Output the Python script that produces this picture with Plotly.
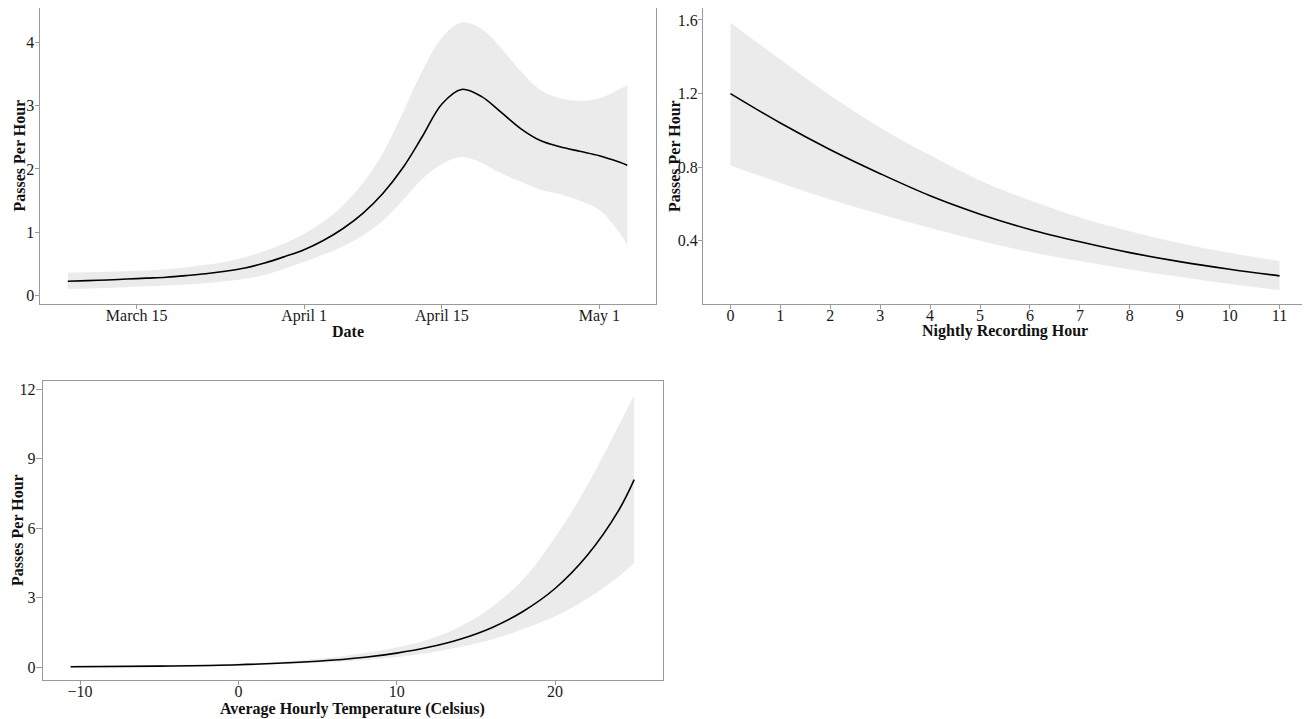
import plotly.graph_objects as go

# ---- Panel 1: passes per hour by date
dates = ["2019-03-08", "2019-03-10", "2019-03-12", "2019-03-14", "2019-03-16", "2019-03-18",
         "2019-03-20", "2019-03-22", "2019-03-24", "2019-03-26", "2019-03-28", "2019-03-30",
         "2019-04-01", "2019-04-03", "2019-04-05", "2019-04-07", "2019-04-09", "2019-04-11",
         "2019-04-13", "2019-04-15", "2019-04-17", "2019-04-19", "2019-04-21", "2019-04-23",
         "2019-04-25", "2019-04-27", "2019-04-29", "2019-05-01", "2019-05-03", "2019-05-03 20:00"]
date_fit = [0.22, 0.23, 0.24, 0.255, 0.27, 0.285, 0.31, 0.34, 0.38, 0.43, 0.51, 0.61,
            0.72, 0.87, 1.06, 1.30, 1.61, 2.01, 2.51, 3.03, 3.26, 3.15, 2.90, 2.64,
            2.45, 2.35, 2.28, 2.21, 2.11, 2.06]
date_upper = [0.36, 0.365, 0.37, 0.38, 0.39, 0.41, 0.44, 0.48, 0.53, 0.60, 0.70, 0.82,
              0.97, 1.17, 1.43, 1.78, 2.25, 2.88, 3.55, 4.08, 4.32, 4.22, 3.92, 3.55,
              3.25, 3.12, 3.08, 3.12, 3.26, 3.33]
date_lower = [0.095, 0.105, 0.115, 0.125, 0.14, 0.155, 0.17, 0.19, 0.22, 0.26, 0.32, 0.42,
              0.53, 0.645, 0.78, 0.95, 1.18, 1.50, 1.84, 2.08, 2.19, 2.10, 1.93, 1.80,
              1.67, 1.60, 1.50, 1.35, 1.00, 0.79]
date_tickvals = ["2019-03-15", "2019-04-01", "2019-04-15", "2019-05-01"]
date_ticktext = ["March 15", "April 1", "April 15", "May 1"]

# ---- Panel 2: passes per hour by nightly recording hour
hours = [0, 1, 2, 3, 4, 5, 6, 7, 8, 9, 10, 11]
hour_fit = [1.20, 1.04, 0.895, 0.765, 0.645, 0.545, 0.462, 0.395, 0.336, 0.287, 0.246, 0.21]
hour_upper = [1.585, 1.385, 1.19, 1.015, 0.865, 0.728, 0.62, 0.527, 0.452, 0.387, 0.335, 0.29]
hour_lower = [0.81, 0.715, 0.625, 0.545, 0.47, 0.40, 0.34, 0.29, 0.245, 0.205, 0.165, 0.133]

# ---- Panel 3: passes per hour by temperature
temps = [-10.6, -5, 0, 5, 8, 10, 12, 14, 16, 18, 20, 22, 24, 25]
temp_fit = [0.02, 0.05, 0.11, 0.26, 0.43, 0.61, 0.86, 1.21, 1.71, 2.42, 3.40, 4.80, 6.75, 8.10]
temp_upper = [0.06, 0.09, 0.16, 0.36, 0.62, 0.85, 1.20, 1.75, 2.60, 3.80, 5.60, 7.80, 10.40, 11.75]
temp_lower = [0.0, 0.02, 0.07, 0.19, 0.31, 0.44, 0.62, 0.87, 1.20, 1.65, 2.20, 2.95, 3.90, 4.50]

W, H = 1310, 719
OFF = 8  # page body margin around the plot div
FONT = "Liberation Serif, Times New Roman, serif"
BORDER = "#9a9a9a"
RIBBON = "#ebebeb"


def px_x(p):
    return (p - OFF) / W


def px_y(p):
    return 1 - (p - OFF) / H


fig = go.Figure()


def add_panel(fig, x, fit, lo, hi, xa, ya):
    fig.add_trace(go.Scatter(x=x, y=lo, mode="lines", line=dict(width=0, shape="spline"),
                             xaxis=xa, yaxis=ya, showlegend=False, hoverinfo="skip"))
    fig.add_trace(go.Scatter(x=x, y=hi, mode="lines", line=dict(width=0, shape="spline"),
                             fill="tonexty", fillcolor=RIBBON,
                             xaxis=xa, yaxis=ya, showlegend=False, hoverinfo="skip"))
    fig.add_trace(go.Scatter(x=x, y=fit, mode="lines", line=dict(color="black", width=1.6, shape="spline"),
                             xaxis=xa, yaxis=ya, showlegend=False))


add_panel(fig, dates, date_fit, date_lower, date_upper, "x", "y")
add_panel(fig, hours, hour_fit, hour_lower, hour_upper, "x2", "y2")
add_panel(fig, temps, temp_fit, temp_lower, temp_upper, "x3", "y3")

base = dict(showline=True, mirror=True, linecolor=BORDER, linewidth=1,
            showgrid=False, zeroline=False, ticks="outside", ticklen=4,
            tickcolor=BORDER, tickwidth=1,
            tickfont=dict(family=FONT, size=16, color="#1a1a1a"))
xstyle = dict(base, ticklabelstandoff=-7)
ystyle = dict(base, ticklabelstandoff=-3)

top_y = [px_y(304), px_y(8)]
fig.update_layout(
    xaxis=dict(domain=[px_x(39.5), px_x(656)], anchor="y",
               range=["2019-03-05 03:00", "2019-05-06 18:00"],
               tickmode="array", tickvals=date_tickvals, ticktext=date_ticktext, **xstyle),
    yaxis=dict(domain=top_y, anchor="x", range=[-0.14, 4.55],
               tickmode="array", tickvals=[0, 1, 2, 3, 4], **ystyle),
    xaxis2=dict(domain=[px_x(703), px_x(1307)], anchor="y2", range=[-0.55, 11.55],
                tickmode="array", tickvals=hours, **xstyle),
    yaxis2=dict(domain=top_y, anchor="x2", range=[0.057, 1.665],
                tickmode="array", tickvals=[0.4, 0.8, 1.2, 1.6],
                ticktext=["0.4", "0.8", "1.2", "1.6"], **ystyle),
    xaxis3=dict(domain=[px_x(42.7), px_x(662.7)], anchor="y3", range=[-12.36, 26.8],
                tickmode="array", tickvals=[-10, 0, 10, 20], **xstyle),
    yaxis3=dict(domain=[px_y(680), px_y(380.7)], anchor="x3", range=[-0.55, 12.37],
                tickmode="array", tickvals=[0, 3, 6, 9, 12], **dict(ystyle, ticklen=6)),
    width=W, height=H,
    margin=dict(l=0, r=0, t=0, b=0),
    paper_bgcolor="white", plot_bgcolor="white",
    font=dict(family=FONT, color="#1a1a1a"),
)

# axis titles placed as annotations (y titles overlap tick labels in the original)
title_font = dict(family=FONT, size=16, color="#111111")
titles = [
    ("<b>Date</b>", 348, 331, 0),
    ("<b>Nightly Recording Hour</b>", 1005, 331, 0),
    ("<b>Average Hourly Temperature (Celsius)</b>", 352.7, 709, 0),
    ("<b>Passes Per Hour</b>", 18.5, 156, -90),
    ("<b>Passes Per Hour</b>", 674, 156, -90),
    ("<b>Passes Per Hour</b>", 17, 530, -90),
]
for text, x, y, ang in titles:
    fig.add_annotation(text=text, x=px_x(x), y=px_y(y), xref="paper", yref="paper",
                       showarrow=False, textangle=ang, font=title_font,
                       xanchor="center", yanchor="middle")

fig.write_html("out.html")
